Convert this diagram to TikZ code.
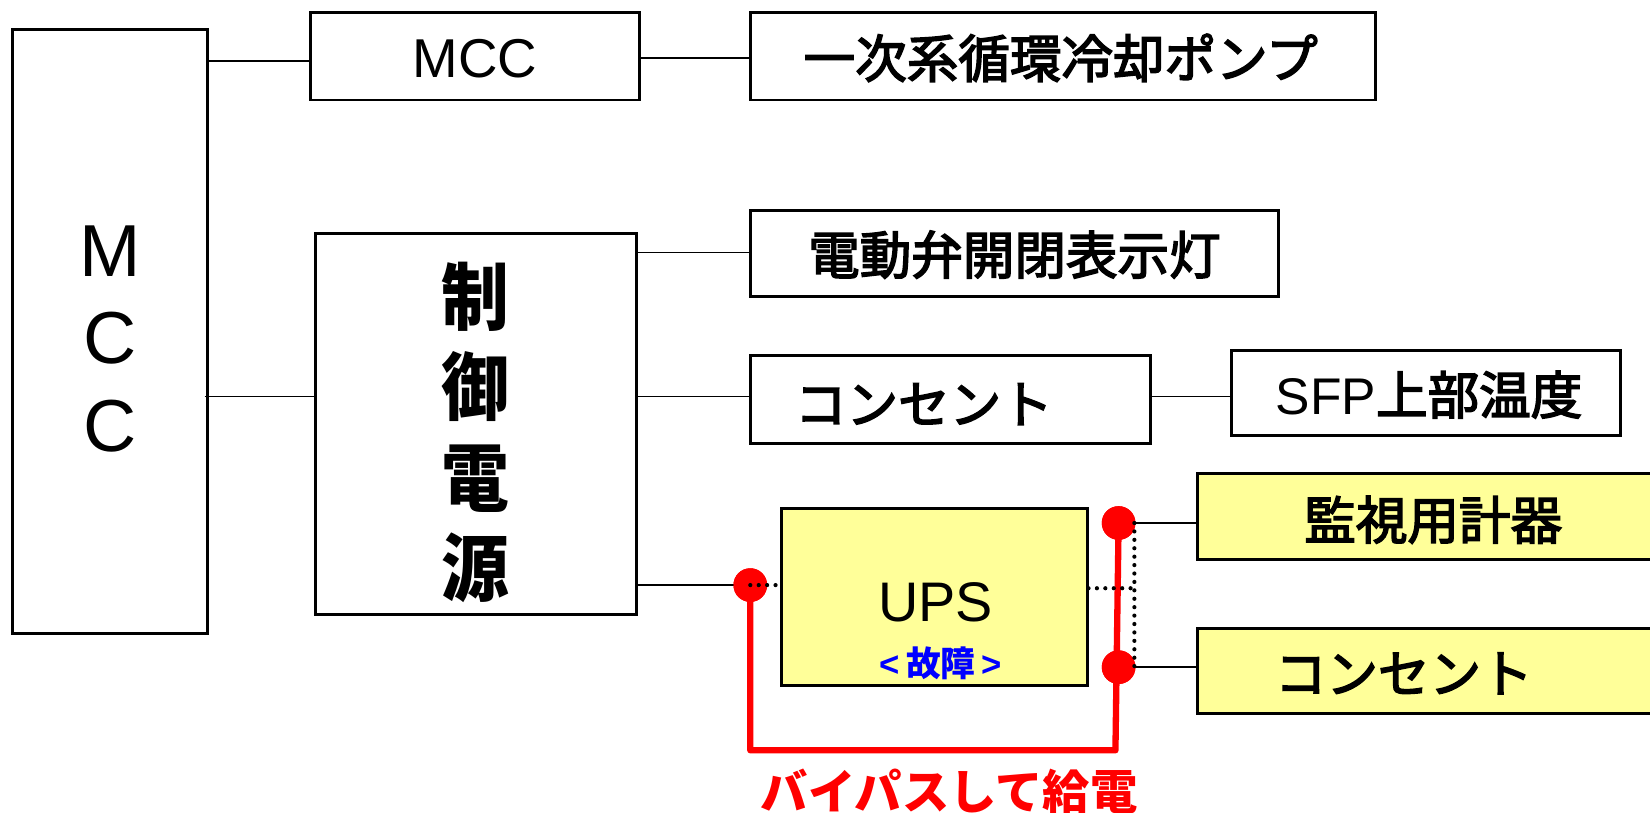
\documentclass[tikz,border=0pt]{standalone}
\usepackage{fontspec}
\newfontfamily\jp{Noto Sans CJK JP}
\newfontfamily\jpm{Noto Sans CJK JP}[FakeBold=3]
\newfontfamily\jpc{Noto Sans CJK JP}[FakeStretch=0.92]
\newfontfamily\lat{Liberation Sans}
\usetikzlibrary{calc}
\definecolor{boxyellow}{HTML}{FFFF99}
\definecolor{bypassred}{HTML}{FF0000}
\definecolor{faultblue}{HTML}{0000FF}
\tikzset{
  box/.style={draw=black, line width=1.4pt, rectangle, inner sep=0pt, fill=white},
  ybox/.style={box, fill=boxyellow},
  jtext/.style={font=\jpm\fontsize{24.5pt}{29pt}\selectfont, inner sep=0pt},
  ltext/.style={font=\lat\fontsize{26pt}{30pt}\selectfont, inner sep=0pt},
  wire/.style={draw=black, line width=0.7pt},
  dotwire/.style={draw=black, line width=2pt, line cap=round, dash pattern=on 0pt off 4pt},
  bypass/.style={draw=bypassred, line width=3pt, line join=round, line cap=round},
  rdot/.style={circle, fill=bypassred, minimum size=16pt, inner sep=0pt}
}
\begin{document}
\begin{tikzpicture}[x=0.5pt,y=-0.5pt]
\useasboundingbox[fill=white] (0,0) rectangle (1568,772);
% boxes
\node[box, minimum width=92.5pt, minimum height=287pt] (bigmcc) at (104.5,315) {};
\node[box, minimum width=156.5pt, minimum height=41.5pt] (mcc) at (451.5,53.5) {};
\node[box, minimum width=297pt, minimum height=41.5pt] (pump) at (1010,53.5) {};
\node[box, minimum width=152.5pt, minimum height=181pt] (ctrl) at (452.5,403) {};
\node[box, minimum width=251pt, minimum height=41pt] (valve) at (964,241) {};
\node[box, minimum width=190pt, minimum height=41.5pt] (outA) at (903,379.5) {};
\node[box, minimum width=185pt, minimum height=40.5pt] (sfp) at (1355,373.5) {};
\node[ybox, minimum width=145pt, minimum height=84pt] (ups) at (888,567) {};
\node[ybox, minimum width=221pt, minimum height=41pt] (mon) at (1359,491) {};
\node[ybox, minimum width=221pt, minimum height=40.5pt] (outB) at (1359,637.5) {};
% texts
\node[font=\lat\fontsize{35pt}{41.5pt}\selectfont, align=center, inner sep=0pt] (tbig) at (105,322) {M\\C\\C};
\node[ltext] (tmcc) at (451.5,56) {MCC};
\node[jtext] (tpump) at (1008,55) {一次系循環冷却ポンプ};
\node[font=\jpc\bfseries\fontsize{35pt}{43pt}\selectfont, align=center, inner sep=0pt] (tctrl) at (452,411) {制\\御\\電\\源};
\node[jtext] (tvalve) at (964,242) {電動弁開閉表示灯};
\node[jtext] (toutA) at (878,384) {コンセント};
\node[jtext] (tsfp) at (1358,375) {{\lat SFP}上部温度};
\node[ltext, font=\lat\fontsize{26.5pt}{30pt}\selectfont] (tups) at (889,572) {UPS};
\node[font=\jp\bfseries\fontsize{16.5pt}{18pt}\selectfont, text=faultblue, inner sep=0pt] (tfault) at (894,630) {{\lat<}\,故障\,{\lat>}};
\node[jtext] (tmon) at (1362,494) {監視用計器};
\node[jtext] (toutB) at (1334,640) {コンセント};
\node[font=\jp\bfseries\fontsize{22.5pt}{27pt}\selectfont, text=bypassred, inner sep=0pt] (tbypass) at (902,752) {バイパスして給電};
% junctions
\node[rdot] (dL) at (713,556) {};
\node[rdot] (dT) at (1063,497) {};
\node[rdot] (dB) at (1063,634) {};
\coordinate (jT) at (1078,497);
\coordinate (jB) at (1078,634);
\coordinate (jM) at (1078,559);
\coordinate (bl) at (713,713);
\coordinate (br) at (1060,713);
% connectors
\draw[wire] (bigmcc.east |- 0,58) -- (mcc.west |- 0,58);
\draw[wire] (mcc.east |- 0,55) -- (pump.west |- 0,55);
\draw[wire] ([xshift=-2pt]bigmcc.east |- 0,377) -- (ctrl.west |- 0,377);
\draw[wire] (ctrl.east |- 0,240) -- (valve.west |- 0,240);
\draw[wire] (ctrl.east |- 0,377) -- (outA.west |- 0,377);
\draw[wire] (outA.east |- 0,377) -- (sfp.west |- 0,377);
\draw[wire] (ctrl.east |- dL) -- (dL.center);
\draw[bypass] (dL.center) -- (bl) -- (br) -- (dT.center);
\node[rdot] at (dL) {};
\node[rdot] at (dT) {};
\node[rdot] at (dB) {};
\draw[wire] (jT) -- (mon.west |- jT);
\draw[wire] (jB) -- (outB.west |- jB);
\draw[dotwire] (dL.center) -- (ups.west |- dL);
\draw[dotwire] (ups.east |- jM) -- (jM);
\draw[dotwire] (jT) -- (jB);
\end{tikzpicture}
\end{document}
